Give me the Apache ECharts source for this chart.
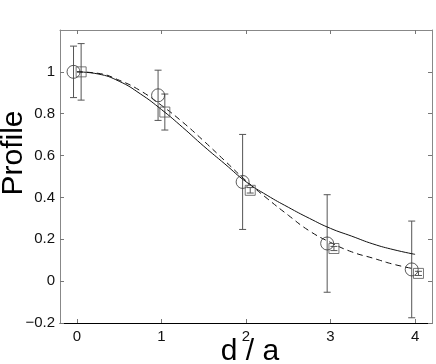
<!DOCTYPE html>
<html>
<head>
<meta charset="utf-8">
<script src="https://cdn.jsdelivr.net/npm/echarts@6/dist/echarts.min.js"></script>
<style>
  html, body { margin: 0; padding: 0; background: #fff; }
  #main { width: 436px; height: 364px; }
</style>
</head>
<body>
<div id="main"></div>
<script>
// measured points (circles) and fitted points (squares), with error bars
var circleX = [-0.04, 0.96, 1.96, 2.96, 3.96];
var circleY = [1.0, 0.888, 0.474, 0.18, 0.056];
var circleErr = [0.123, 0.12, 0.227, 0.233, 0.231];

var squareX = [0.05, 1.04, 2.05, 3.04, 4.04];
var squareY = [1.0, 0.808, 0.434, 0.156, 0.037];
var squareErr = [0.135, 0.086, 0.013, 0.01, 0.01];

// the two model curves
var curveX = [0, 0.25, 0.5, 0.75, 1.0, 1.25, 1.5, 1.75, 2.0, 2.25, 2.5, 2.75, 3.0, 3.25, 3.5, 3.75, 4.0];
var solidY = [1.0, 0.99, 0.955, 0.895, 0.82, 0.735, 0.645, 0.56, 0.475, 0.41, 0.353, 0.30, 0.252, 0.215, 0.178, 0.15, 0.128];
var dashedY = [1.0, 0.993, 0.96, 0.91, 0.84, 0.76, 0.67, 0.575, 0.48, 0.395, 0.315, 0.24, 0.185, 0.14, 0.11, 0.08, 0.058];

var xTicks = [0, 1, 2, 3, 4];
var yTicks = [-0.2, 0, 0.2, 0.4, 0.6, 0.8, 1];

function zip(xs, ys, es) {
  return xs.map(function (x, i) { return es ? [x, ys[i], es[i]] : [x, ys[i]]; });
}

function errorBar(params, api) {
  var x = api.value(0), y = api.value(1), e = api.value(2);
  var top = api.coord([x, y + e]);
  var bot = api.coord([x, y - e]);
  var hw = 3.5;
  var st = { stroke: '#555', lineWidth: 1 };
  return {
    type: 'group',
    children: [
      { type: 'line', shape: { x1: top[0], y1: top[1], x2: bot[0], y2: bot[1] }, style: st },
      { type: 'line', shape: { x1: top[0] - hw, y1: top[1], x2: top[0] + hw, y2: top[1] }, style: st },
      { type: 'line', shape: { x1: bot[0] - hw, y1: bot[1], x2: bot[0] + hw, y2: bot[1] }, style: st }
    ]
  };
}

var font = 'Liberation Sans, Arial, sans-serif';

var myChart = echarts.init(document.getElementById('main'));
var option = {
  animation: false,
  grid: { left: 60, right: 4, top: 30, bottom: 41, outerBoundsMode: 'none', containLabel: false },
  graphic: [
    {
      type: 'text', x: 250, y: 352,
      style: { text: 'd / a', font: '30px ' + font, fill: '#000', align: 'center', verticalAlign: 'middle' }
    },
    {
      type: 'text', x: 14, y: 153, rotation: Math.PI / 2,
      style: { text: 'Profile', font: '30px ' + font, fill: '#000', align: 'center', verticalAlign: 'middle' }
    }
  ],
  xAxis: [
    {
      type: 'value', min: -0.2, max: 4.2, position: 'bottom',
      axisLine: { onZero: false, lineStyle: { color: '#000', width: 1 } },
      axisTick: { inside: true, length: 4, customValues: xTicks, lineStyle: { color: '#777' } },
      axisLabel: { customValues: xTicks, margin: 6, fontFamily: font, fontSize: 15, color: '#111' },
      splitLine: { show: false }
    },
    {
      type: 'value', min: -0.2, max: 4.2, position: 'top',
      axisLine: { onZero: false, lineStyle: { color: '#888' } },
      axisTick: { inside: true, length: 4, customValues: xTicks, lineStyle: { color: '#777' } },
      axisLabel: { show: false },
      splitLine: { show: false }
    }
  ],
  yAxis: [
    {
      type: 'value', min: -0.2, max: 1.2, position: 'left',
      axisLine: { onZero: false, lineStyle: { color: '#888' } },
      axisTick: { inside: true, length: 4, customValues: yTicks, lineStyle: { color: '#777' } },
      axisLabel: {
        customValues: yTicks, margin: 5, fontFamily: font, fontSize: 15, color: '#111',
        formatter: function (v) { return v < 0 ? '\u2212' + String(-v) : String(v); }
      },
      splitLine: { show: false }
    },
    {
      type: 'value', min: -0.2, max: 1.2, position: 'right',
      axisLine: { onZero: false, lineStyle: { color: '#888' } },
      axisTick: { inside: true, length: 4, customValues: yTicks, lineStyle: { color: '#777' } },
      axisLabel: { show: false },
      splitLine: { show: false }
    }
  ],
  series: [
    {
      name: 'solid', type: 'line', smooth: true, showSymbol: false,
      data: zip(curveX, solidY),
      lineStyle: { color: '#111', width: 1 }
    },
    {
      name: 'dashed', type: 'line', smooth: true, showSymbol: false,
      data: zip(curveX, dashedY),
      lineStyle: { color: '#111', width: 1, type: [6, 4] }
    },
    {
      name: 'circleErr', type: 'custom', renderItem: errorBar,
      data: zip(circleX, circleY, circleErr), z: 3
    },
    {
      name: 'squareErr', type: 'custom', renderItem: errorBar,
      data: zip(squareX, squareY, squareErr), z: 3
    },
    {
      name: 'circles', type: 'scatter', symbol: 'circle', symbolSize: 13,
      data: zip(circleX, circleY),
      itemStyle: { color: 'rgba(0,0,0,0)', borderColor: '#333', borderWidth: 1 }, z: 4
    },
    {
      name: 'squares', type: 'scatter', symbol: 'rect', symbolSize: 10,
      data: zip(squareX, squareY),
      itemStyle: { color: 'rgba(0,0,0,0)', borderColor: '#555', borderWidth: 1 }, z: 4
    }
  ]
};

myChart.setOption(option);
</script>
</body>
</html>
